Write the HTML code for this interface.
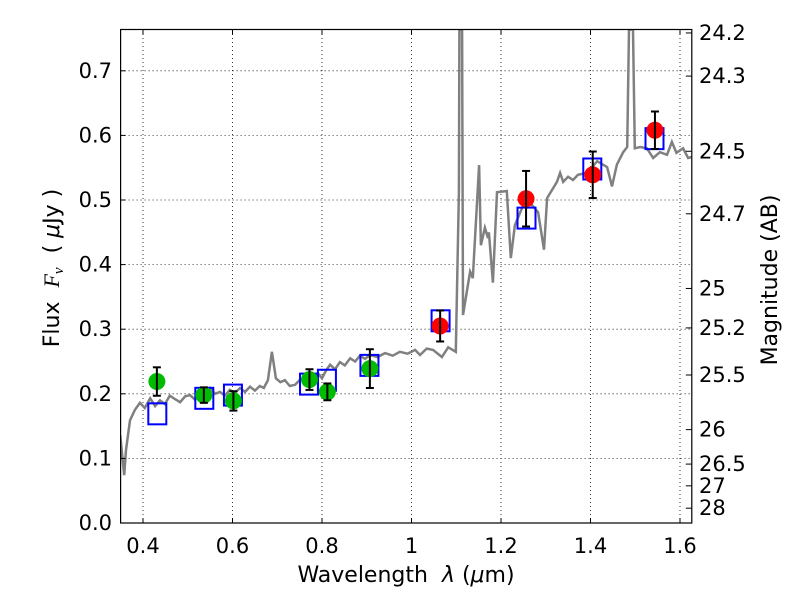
<!DOCTYPE html>
<html><head><meta charset="utf-8"><style>
html,body{margin:0;padding:0;background:#fff;}
svg text{font-family:"DejaVu Sans","Liberation Sans",sans-serif;}
</style></head><body>
<svg id="chart" width="800" height="600" xmlns="http://www.w3.org/2000/svg">
<rect width="800" height="600" fill="#fff"/>
<g id="grid"></g>
<g id="spec"></g>
<g id="marks"></g>
<g id="axes"></g>
</svg>
<script>
const xTicks=[0.4,0.6,0.8,1.0,1.2,1.4,1.6];
const xTickLabels=["0.4","0.6","0.8","1","1.2","1.4","1.6"];
const yTicks=[0,0.1,0.2,0.3,0.4,0.5,0.6,0.7];
const yTickLabels=["0.0","0.1","0.2","0.3","0.4","0.5","0.6","0.7"];
const magTicks=[24.2,24.3,24.5,24.7,25,25.2,25.5,26,26.5,27,28];
const specLam=[0.349,0.358,0.362,0.371,0.382,0.393,0.404,0.416,0.427,0.438,0.449,0.46,0.471,0.483,0.494,0.505,0.516,0.527,0.538,0.55,0.561,0.572,0.583,0.594,0.605,0.617,0.628,0.639,0.650,0.661,0.670,0.679,0.688,0.697,0.707,0.717,0.728,0.74,0.751,0.762,0.773,0.784,0.792,0.8,0.809,0.818,0.829,0.84,0.851,0.863,0.874,0.885,0.896,0.907,0.924,0.941,0.958,0.974,0.991,1.008,1.019,1.034,1.048,1.068,1.082,1.099,1.106,1.107,1.113,1.115,1.131,1.137,1.151,1.155,1.164,1.171,1.173,1.182,1.191,1.213,1.222,1.231,1.256,1.283,1.296,1.303,1.325,1.332,1.339,1.35,1.361,1.372,1.392,1.415,1.437,1.448,1.459,1.473,1.482,1.486,1.495,1.499,1.511,1.526,1.540,1.555,1.571,1.582,1.592,1.607,1.618,1.629];
const specFlux=[0.136,0.074,0.113,0.159,0.175,0.186,0.178,0.193,0.181,0.19,0.184,0.197,0.192,0.187,0.196,0.198,0.191,0.206,0.198,0.209,0.200,0.203,0.197,0.206,0.201,0.209,0.203,0.211,0.205,0.212,0.209,0.221,0.265,0.224,0.218,0.221,0.212,0.214,0.222,0.221,0.215,0.224,0.231,0.224,0.236,0.245,0.238,0.249,0.244,0.255,0.250,0.259,0.254,0.26,0.257,0.263,0.259,0.265,0.262,0.268,0.260,0.270,0.268,0.257,0.272,0.265,0.512,0.8,0.8,0.322,0.389,0.379,0.554,0.430,0.457,0.441,0.45,0.372,0.512,0.514,0.410,0.461,0.503,0.481,0.423,0.503,0.528,0.542,0.528,0.536,0.531,0.539,0.542,0.560,0.551,0.521,0.555,0.574,0.582,0.8,0.8,0.580,0.582,0.580,0.565,0.574,0.570,0.590,0.573,0.580,0.565,0.567];
const greenLam=[0.431,0.536,0.602,0.772,0.812,0.907];
const greenFlux=[0.219,0.198,0.189,0.222,0.203,0.239];
const greenErr=[0.022,0.012,0.015,0.016,0.013,0.030];
const redLam=[1.064,1.256,1.405,1.544];
const redFlux=[0.305,0.502,0.539,0.608];
const redErr=[0.024,0.043,0.036,0.029];
const modelLam=[0.432,0.537,0.601,0.771,0.811,0.906,1.065,1.257,1.404,1.543];
const modelFlux=[0.169,0.193,0.198,0.215,0.221,0.244,0.313,0.472,0.548,0.595];

const X0=120.6,X1=691.8,Y0=523,Y1=29.5;
const xs=v=>143+(v-0.4)*447.5;
const ys=v=>523-v*646;
const NS="http://www.w3.org/2000/svg";
function mk(tag,attrs,parent){const e=document.createElementNS(NS,tag);for(const k in attrs)e.setAttribute(k,attrs[k]);parent.appendChild(e);return e;}
const grid=document.getElementById('grid'),axes=document.getElementById('axes'),marks=document.getElementById('marks'),spec=document.getElementById('spec');

xTicks.forEach((t,i)=>{
  const x=xs(t);
  const g=mk('line',{x1:x,x2:x,y1:Y0,y2:Y1,stroke:'#000','stroke-width':0.8,'stroke-dasharray':'1,3'},grid);
  
  
  mk('line',{x1:x,x2:x,y1:Y0,y2:Y0-5,stroke:'#000'},axes);
  mk('line',{x1:x,x2:x,y1:Y1,y2:Y1+5,stroke:'#000'},axes);
  const tx=mk('text',{x:x,y:553,'font-size':21,'text-anchor':'middle'},axes);
  tx.textContent=xTickLabels[i];
  
  
});
yTicks.forEach((t,i)=>{
  const y=ys(t);
  const g=mk('line',{x1:X0,x2:X1,y1:y,y2:y,stroke:'#000','stroke-width':0.8,'stroke-dasharray':'1,3'},grid);
  
  
  mk('line',{x1:X0,x2:X0+5,y1:y,y2:y,stroke:'#000'},axes);
  const tx=mk('text',{x:112,y:y+7,'font-size':21,'text-anchor':'end'},axes);
  tx.textContent=yTickLabels[i];
  
  
});
magTicks.forEach(m=>{
  const y=ys(Math.pow(10,(23.9-m)/2.5));
  mk('line',{x1:X1,x2:X1-6,y1:y,y2:y,stroke:'#000'},axes);
  const tx=mk('text',{x:699,y:y+7,'font-size':21},axes);
  tx.textContent=String(m);
  
  
});

let d='';specLam.forEach((l,i)=>{d+=(i?'L':'M')+xs(l).toFixed(1)+','+Math.max(ys(specFlux[i]),Y1).toFixed(1);});
const clip=mk('clipPath',{id:'pc'},document.getElementById('chart'));
mk('rect',{x:X0,y:Y1,width:X1-X0,height:Y0-Y1},clip);
const sp=mk('path',{d:d,fill:'none',stroke:'#808080','stroke-width':2.5,'clip-path':'url(#pc)'},spec);



modelLam.forEach((l,i)=>{
  const r=mk('rect',{x:xs(l)-9,y:ys(modelFlux[i])-10.5,width:18,height:21,fill:'none',stroke:'#0000ff','stroke-width':2},marks);
  
  
});
function pts(lam,flux,err,color,name){
  lam.forEach((l,i)=>{
    const x=xs(l),y=ys(flux[i]);
    mk('circle',{cx:x,cy:y,r:8.5,fill:color},marks);
    const yt=ys(flux[i]+err[i]),yb=ys(flux[i]-err[i]);
    const g=mk('g',{stroke:'#000','stroke-width':2},marks);
    
    
    mk('line',{x1:x,x2:x,y1:yt,y2:yb},g);
    mk('line',{x1:x-4,x2:x+4,y1:yt,y2:yt},g);
    mk('line',{x1:x-4,x2:x+4,y1:yb,y2:yb},g);
  });
}
pts(greenLam,greenFlux,greenErr,'#00bb00','green-observed');
pts(redLam,redFlux,redErr,'#ff0000','red-observed');

const fr=mk('rect',{x:X0,y:Y1,width:X1-X0,height:Y0-Y1,fill:'none',stroke:'#000','stroke-width':1.2},axes);


</script>
<svg style="position:absolute;left:0;top:0" width="800" height="600" xmlns="http://www.w3.org/2000/svg">
<text x="406" y="582" font-size="22" text-anchor="middle" xml:space="preserve" style="white-space:pre" font-family="DejaVu Sans, Liberation Sans, sans-serif">Wavelength  <tspan font-style="italic">λ</tspan> (<tspan font-style="italic">μ</tspan>m)</text>
<text transform="translate(59,268) rotate(-90)" font-size="22" text-anchor="middle" xml:space="preserve" style="white-space:pre" font-family="DejaVu Sans, Liberation Sans, sans-serif">Flux  <tspan font-family="Liberation Serif, serif" font-style="italic">F</tspan><tspan font-family="Liberation Serif, serif" font-style="italic" font-size="15" dy="4">ν</tspan><tspan dy="-4">  ( </tspan><tspan font-style="italic">μ</tspan>Jy )</text>
<text transform="translate(777,280) rotate(-90)" font-size="22" text-anchor="middle" font-family="DejaVu Sans, Liberation Sans, sans-serif">Magnitude (AB)</text>
</svg>
</body></html>
